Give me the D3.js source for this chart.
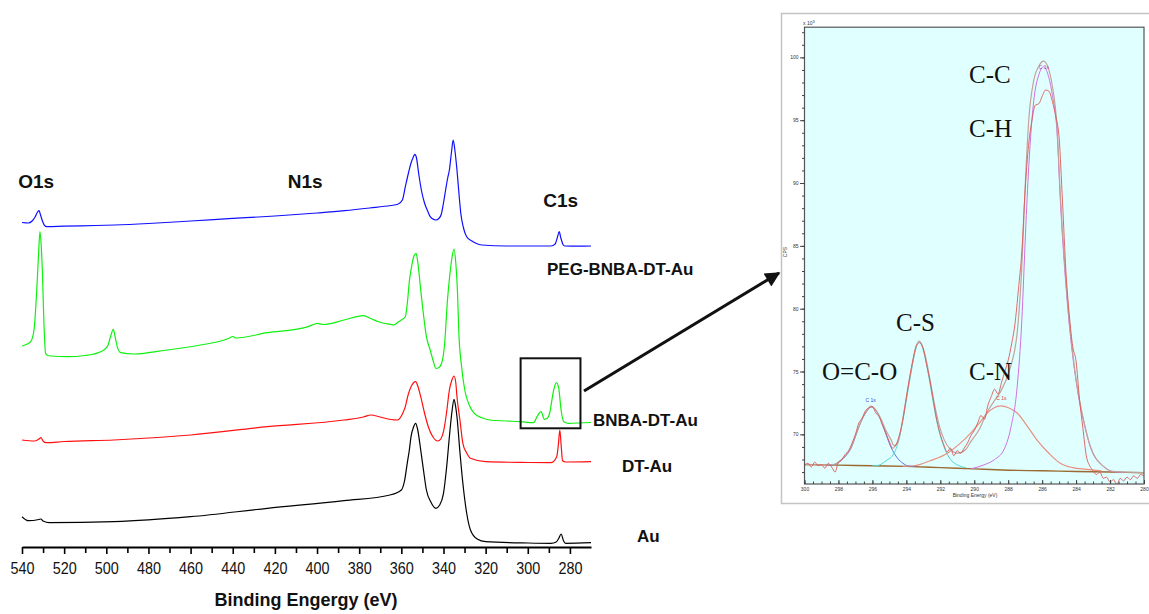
<!DOCTYPE html>
<html lang="en">
<head>
<meta charset="utf-8">
<title>XPS survey spectra with C1s inset</title>
<script src="https://cdn.jsdelivr.net/npm/d3@7/dist/d3.min.js"></script>
<style>
  body { margin: 0; background: #fff; }
  svg text { font-family: "Liberation Sans", Arial, sans-serif; }
</style>
</head>
<body>
<svg id="chart" width="1149" height="614"></svg>
<script>
// ---- survey spectra: [binding energy (eV), intensity (a.u., stacked)] ----
var pegSpectrum = [
  [540, 324.5], [537, 324], [535.2, 326], [533.8, 330], [532.6, 335], [531.9, 336.3],
  [531.2, 332], [530.3, 326], [529.3, 321.5], [528.3, 320.3], [520, 320.8], [505, 321.5],
  [496, 322], [480, 323.5], [460, 326], [442, 328.3], [420, 331], [400, 334], [387, 336.3],
  [375, 339], [365, 341.5], [361.7, 342.7], [359.5, 347], [358.1, 360.3], [356.5, 375],
  [355.4, 384], [354.3, 390], [353.6, 392.7], [352.8, 389], [351.8, 374], [350.5, 357],
  [349, 344], [347.5, 336], [346.3, 330.3], [344.5, 327.5], [343.6, 327], [342.2, 328.5],
  [341, 333], [340, 344], [339, 357], [338, 369], [337.2, 377], [336.2, 395], [335.4, 407],
  [334.6, 397], [333.6, 377], [332.6, 352], [331.8, 334], [330.5, 319], [329, 310.3],
  [326.5, 306], [324.6, 303.7], [321.8, 302], [310, 301], [289, 301], [287, 303],
  [285.9, 310], [285.1, 315.3], [284.3, 309], [283.3, 302.5], [282.5, 301], [276, 300.8], [270, 301]
];
var bnbaSpectrum = [
  [540, 201], [538, 202.5], [535.9, 205.3], [534.3, 217], [533.0, 257], [532.1, 295],
  [531.5, 315.3], [530.9, 302], [530.3, 274], [529.6, 224], [528.8, 193.7], [527.8, 191.5],
  [526.4, 191], [518.5, 190.3], [510, 191.5], [502.7, 195.3], [499.5, 200.3], [497.9, 211],
  [496.7, 217.7], [495.7, 209], [494.8, 200.3], [493.2, 194.3], [486.9, 193], [471.1, 197],
  [455.3, 202], [441.8, 208.7], [440, 210.5], [438.5, 209], [423.6, 214.3], [405.4, 219.7],
  [401, 223], [400, 223.7], [397, 222.5], [387.2, 227], [378.1, 231.3], [374, 228],
  [370.9, 225.3], [365, 222.5], [363.6, 222], [361.5, 225], [360, 227], [358.1, 230.3],
  [357, 247], [356.3, 263.7], [355, 282], [354, 291], [353, 293.7], [352.2, 285],
  [350.8, 257], [349.3, 229], [348.1, 210.3], [346.3, 197], [345, 187], [343.6, 178.7],
  [342.5, 179], [340.9, 183.7], [339.5, 202], [338.1, 247], [337, 272], [336, 289],
  [335, 298], [334.2, 285], [333.3, 252], [332.7, 213.7], [331.5, 182], [329.9, 157],
  [327.8, 142], [325.4, 133.7], [321.5, 129], [318.1, 127], [310, 126], [303.5, 125.3],
  [297.2, 124.3], [295.6, 130.3], [293.7, 135.3], [292.1, 127.7], [290.8, 128.7],
  [289.5, 135], [288.8, 143.7], [287.7, 157], [286.4, 164.3], [285.3, 158.7], [284.2, 137],
  [282.9, 125.3], [280.6, 123.7], [270, 124.5]
];
var dtSpectrum = [
  [540, 107], [534, 106], [532, 108], [531, 109.3], [530, 106], [528.5, 104.3], [520, 105.5],
  [496.4, 107], [460, 112], [423.6, 120.3], [387.2, 127], [378, 130], [374.5, 132],
  [370, 130], [365, 127.5], [361.8, 127], [359.5, 133], [358.1, 140.3], [356.8, 152],
  [355.4, 160.3], [354.3, 164], [353.2, 165.3], [352.2, 161], [350.8, 150.3], [349, 134],
  [347.2, 120.3], [345, 110], [342.7, 106], [341.3, 108], [340, 115.3], [338.5, 135],
  [337.2, 157], [336, 167], [335, 171], [334.2, 165], [333.6, 150.3], [332.2, 127],
  [330.8, 103.7], [329, 94], [327.2, 88.7], [320, 85.3], [300, 84.5], [289, 84.3],
  [286.3, 90], [285.5, 102], [284.8, 117], [284.1, 100], [283.5, 86.3], [282, 85], [270, 85.3]
];
var auSpectrum = [
  [540, 30.3], [537, 26.3], [532, 27.5], [531, 28], [530, 26], [527, 24.3], [496.4, 25.3],
  [460, 30.3], [423.6, 38.7], [387.2, 46.3], [365.4, 52], [360, 57], [358.5, 66],
  [357.2, 83.7], [356.2, 97], [355.4, 110.3], [354.2, 120], [353.2, 123.7], [352.3, 118],
  [350.8, 97], [349.5, 77], [348.1, 57], [346, 45], [343.6, 38.7], [341.8, 42], [340, 53.7],
  [338.5, 80], [337.2, 110.3], [336, 135], [335, 147.7], [334.2, 140], [333.6, 130.3],
  [332.2, 95], [330.8, 63.7], [329, 34], [327.2, 17], [324, 8], [320, 5.3], [300, 4],
  [289, 3.7], [286.5, 5], [285.2, 9], [284.2, 13], [283, 6], [282, 3.7], [270, 4.3]
];
var mainTicks = [540, 520, 500, 480, 460, 440, 420, 400, 380, 360, 340, 320, 300, 280];
var zoomWindow = [303.4, 275.0, 118.7, 188.7];   // E from, E to, intensity low, high

// ---- C1s high resolution inset: [binding energy (eV), counts x10^3] ----
var c1sBackground = [
  [300, 67.6], [298, 67.55], [296, 67.5], [294, 67.45], [292, 67.35], [290, 67.25],
  [288, 67.15], [286, 67.1], [284, 67.05], [282, 67.0], [280, 66.95]
];
var c1sOCO = [
  [298.6, 67.55], [298.24, 67.6], [297.7, 68.1], [297.26, 68.9], [296.9, 70.2], [296.67, 71.0],
  [296.35, 71.8], [296.08, 72.2], [295.8, 71.9], [295.5, 71.15], [295.2, 70.0], [294.91, 69.0],
  [294.52, 68.1], [294.2, 67.7], [293.93, 67.5], [293.5, 67.45]
];
var c1sCS = [
  [296.0, 67.5], [295.69, 67.52], [295.2, 67.9], [294.72, 68.5], [294.4, 69.8], [294.13, 71.7],
  [293.93, 73.3], [293.73, 74.86], [293.5, 76.5], [293.25, 77.37], [293.05, 76.9],
  [292.86, 75.9], [292.6, 74.0], [292.37, 72.2], [292.1, 70.4], [291.78, 69.0], [291.4, 68.0],
  [290.99, 67.57], [290.5, 67.35]
];
var c1sCN = [
  [294.2, 67.45], [293.54, 67.5], [292.6, 67.9], [291.58, 68.5], [290.9, 69.2], [290.21, 70.1],
  [289.7, 70.9], [289.23, 71.7], [288.85, 72.1], [288.45, 72.26], [287.95, 72.1], [287.47, 71.7],
  [286.9, 70.7], [286.3, 69.55], [285.6, 68.5], [284.93, 67.7], [284.2, 67.35], [283.36, 67.22],
  [282.5, 67.1]
];
var c1sCC = [
  [290.2, 67.25], [289.43, 67.57], [288.8, 68.0], [288.26, 68.76], [287.85, 70.5], [287.47, 73.8],
  [287.2, 79.0], [286.98, 86.0], [286.79, 91.3], [286.49, 96.6], [286.2, 98.6], [285.91, 99.25],
  [285.65, 98.6], [285.41, 97.1], [285.12, 93.95], [284.93, 88.65], [284.53, 80.7], [283.95, 73.8],
  [283.55, 71.0], [283.16, 69.0], [282.38, 67.43], [281.8, 67.03], [281.2, 66.98]
];
var c1sEnvelope = [
  [300, 67.6], [298.6, 67.58], [298.24, 67.62], [297.7, 68.15], [297.26, 68.95], [296.9, 70.25],
  [296.67, 71.05], [296.35, 71.85], [296.08, 72.25], [295.8, 71.95], [295.5, 71.25], [295.2, 70.3],
  [294.91, 69.6], [294.72, 69.1], [294.52, 69.3], [294.3, 70.5], [294.13, 71.9], [293.93, 73.5],
  [293.73, 75.0], [293.5, 76.6], [293.25, 77.45], [293.05, 77.0], [292.86, 76.1], [292.6, 74.3],
  [292.37, 72.6], [292.1, 70.9], [291.78, 69.6], [291.4, 68.8], [290.99, 68.5], [290.5, 68.8],
  [290.21, 69.4], [289.7, 70.4], [289.23, 71.8], [288.85, 72.6], [288.45, 73.4], [287.95, 75.0],
  [287.47, 78.1], [287.2, 83.3], [286.98, 90.3], [286.79, 95.0], [286.49, 98.2], [286.2, 99.3],
  [285.91, 99.7], [285.65, 99.2], [285.41, 97.8], [285.12, 94.4], [284.93, 89.1], [284.53, 81.0],
  [283.95, 73.9], [283.55, 71.1], [283.16, 69.05], [282.38, 67.45], [281.8, 67.05], [280, 66.95]
];
var c1sRaw = [
  [300, 67.5], [299.8, 67.7], [299.6, 67.4], [299.4, 67.8], [299.2, 67.5], [299.0, 67.6],
  [298.8, 67.3], [298.6, 67.7], [298.4, 67.4], [298.2, 67.0], [298.0, 67.8], [297.8, 68.0],
  [297.6, 68.4], [297.4, 68.7], [297.2, 69.3], [297.0, 70.0], [296.8, 70.9], [296.6, 71.3],
  [296.4, 71.9], [296.2, 72.1], [296.0, 72.2], [295.8, 71.7], [295.6, 71.4], [295.4, 70.7],
  [295.2, 70.1], [295.0, 69.4], [294.8, 68.9], [294.6, 69.2], [294.4, 70.0], [294.2, 71.2],
  [294.0, 72.9], [293.8, 74.6], [293.6, 76.0], [293.4, 77.1], [293.2, 77.3], [293.0, 76.8],
  [292.8, 75.5], [292.6, 74.2], [292.4, 72.6], [292.2, 71.1], [292.0, 70.0], [291.8, 69.2],
  [291.6, 68.6], [291.4, 68.9], [291.2, 68.3], [291.0, 68.7], [290.8, 68.5], [290.6, 68.9],
  [290.4, 69.3], [290.2, 69.9], [290.0, 70.3], [289.8, 70.9], [289.6, 71.5], [289.4, 71.2],
  [289.2, 72.3], [289.0, 73.0], [288.8, 73.6], [288.6, 73.2], [288.4, 74.1], [288.2, 75.0],
  [288.0, 75.9], [287.8, 77.2], [287.6, 78.8], [287.4, 81.5], [287.2, 84.5], [287.0, 89.5],
  [286.8, 93.0], [286.6, 95.0], [286.4, 96.2], [286.2, 96.3], [286.0, 96.9], [285.8, 97.4],
  [285.6, 97.3], [285.4, 96.5], [285.2, 95.3], [285.0, 93.6], [284.8, 88.5], [284.6, 83.0],
  [284.4, 79.5], [284.2, 77.0], [284.0, 75.8], [283.8, 72.8], [283.6, 70.5], [283.4, 68.3],
  [283.2, 67.5], [283.0, 67.1], [282.8, 66.8], [282.6, 67.0], [282.4, 66.5], [282.2, 66.6],
  [282.0, 66.2], [281.8, 66.4], [281.6, 66.0], [281.4, 66.5], [281.2, 66.3], [281.0, 66.6],
  [280.8, 66.4], [280.6, 66.7], [280.4, 66.5], [280.2, 66.8], [280.0, 66.7]
];
var insetYTicks = [70, 75, 80, 85, 90, 95, 100];
var insetXTicks = [300, 298, 296, 294, 292, 290, 288, 286, 284, 282, 280];

var svg = d3.select("#chart");

// ================= main survey plot =================
var x = d3.scaleLinear().domain([540, 270]).range([22, 591]);
var y = d3.scaleLinear().domain([0, 500]).range([547, 47]);

var line = d3.line()
    .x(function(d) { return x(d[0]); })
    .y(function(d) { return y(d[1]); })
    .curve(d3.curveMonotoneX);

var series = [
    { data: pegSpectrum, color: "#1010ff" },
    { data: bnbaSpectrum, color: "#10f010" },
    { data: dtSpectrum, color: "#ff1010" },
    { data: auSpectrum, color: "#000000" }
];
svg.append("g").selectAll("path")
    .data(series)
    .enter()
    .append("path")
    .attr("d", function(d) { return line(d.data); })
    .attr("fill", "none")
    .attr("stroke", function(d) { return d.color; })
    .attr("stroke-width", 1.2);

// minor ticks every 10 eV
svg.append("g")
    .attr("transform", "translate(0,547)")
    .call(d3.axisBottom(x).tickValues(d3.range(530, 270, -20)).tickSize(6).tickSizeOuter(0).tickFormat(""))
    .call(function(g) { g.select(".domain").remove(); })
    .selectAll("line").attr("stroke", "#000").attr("stroke-width", 1.6);

var xAxis = svg.append("g")
    .attr("transform", "translate(0,547)")
    .call(d3.axisBottom(x).tickValues(mainTicks).tickSize(7).tickSizeOuter(0).tickPadding(8));
xAxis.select(".domain").attr("stroke", "#000").attr("stroke-width", 2);
xAxis.selectAll("line").attr("stroke", "#000").attr("stroke-width", 1.6);
xAxis.selectAll("text")
    .attr("fill", "#111")
    .style("font-size", "17px")
    .style("font-family", "'Liberation Sans', Arial, sans-serif")
    .attr("textLength", 24)
    .attr("lengthAdjust", "spacingAndGlyphs");

svg.append("text")
    .attr("x", 306)
    .attr("y", 606)
    .attr("text-anchor", "middle")
    .style("font-size", "18px")
    .style("font-weight", "bold")
    .attr("fill", "#111")
    .text("Binding Engergy (eV)");

// core level labels
var peakNames = ["O1s", "N1s", "C1s"];
var peakEnergy = [533.3, 405.6, 284.4];
var peakLabelY = [188, 188, 207];
peakNames.forEach(function(name, i) {
    svg.append("text")
        .attr("x", x(peakEnergy[i]))
        .attr("y", peakLabelY[i])
        .attr("text-anchor", "middle")
        .style("font-size", "19px")
        .style("font-weight", "bold")
        .attr("fill", "#111")
        .text(name);
});

// sample labels
var sampleNames = ["PEG-BNBA-DT-Au", "BNBA-DT-Au", "DT-Au", "Au"];
var sampleX = [547, 593, 622, 637];
var sampleY = [275, 426, 472, 542];
sampleNames.forEach(function(name, i) {
    svg.append("text")
        .attr("x", sampleX[i])
        .attr("y", sampleY[i])
        .style("font-size", "17px")
        .style("font-weight", "bold")
        .attr("fill", "#111")
        .text(name);
});

// box around the C1s region and the arrow to the inset
svg.append("rect")
    .attr("x", x(zoomWindow[0]))
    .attr("y", y(zoomWindow[3]))
    .attr("width", x(zoomWindow[1]) - x(zoomWindow[0]))
    .attr("height", y(zoomWindow[2]) - y(zoomWindow[3]))
    .attr("fill", "none")
    .attr("stroke", "#111")
    .attr("stroke-width", 2);

svg.append("defs").append("marker")
    .attr("id", "head")
    .attr("viewBox", "0 0 10 10")
    .attr("refX", 9).attr("refY", 5)
    .attr("markerWidth", 6).attr("markerHeight", 5)
    .attr("orient", "auto")
    .append("path").attr("d", "M0,0L10,5L0,10z").attr("fill", "#111");

svg.append("line")
    .attr("x1", 584).attr("y1", 391)
    .attr("x2", 779).attr("y2", 273)
    .attr("stroke", "#111")
    .attr("stroke-width", 3)
    .attr("marker-end", "url(#head)");

// ================= C1s inset =================
var inset = svg.append("g");
inset.append("rect")
    .attr("x", 781.5).attr("y", 13.5)
    .attr("width", 370).attr("height", 490)
    .attr("fill", "#fff")
    .attr("stroke", "#c4c4c4")
    .attr("stroke-width", 1.5);

var xi = d3.scaleLinear().domain([300, 280]).range([804.5, 1144]);
var yi = d3.scaleLinear().domain([66.05, 102.4]).range([484, 27.2]);

inset.append("clipPath").attr("id", "insetClip")
    .append("rect")
    .attr("x", 804.5).attr("y", 27.2)
    .attr("width", 1144 - 804.5).attr("height", 484 - 27.2);

inset.append("rect")
    .attr("x", 804.5).attr("y", 27.2)
    .attr("width", 1144 - 804.5).attr("height", 484 - 27.2)
    .attr("fill", "#e0ffff");

var iline = d3.line()
    .x(function(d) { return xi(d[0]); })
    .y(function(d) { return yi(d[1]); })
    .curve(d3.curveMonotoneX);

var insetSeries = [
    { data: c1sBackground, color: "#9a6a30", w: 1.4 },
    { data: c1sOCO, color: "#6a70e0", w: 1 },
    { data: c1sCS, color: "#50d8d8", w: 1 },
    { data: c1sCN, color: "#e89080", w: 1.2 },
    { data: c1sCC, color: "#d070e0", w: 1 },
    { data: c1sEnvelope, color: "#c0a49c", w: 1.2 },
    { data: c1sRaw, color: "#e05858", w: 0.9 }
];
inset.append("g")
    .attr("clip-path", "url(#insetClip)")
    .selectAll("path")
    .data(insetSeries)
    .enter()
    .append("path")
    .attr("d", function(d) { return iline(d.data); })
    .attr("fill", "none")
    .attr("stroke", function(d) { return d.color; })
    .attr("stroke-width", function(d) { return d.w; });

inset.append("rect")
    .attr("x", 804.5).attr("y", 27.2)
    .attr("width", 1144 - 804.5).attr("height", 484 - 27.2)
    .attr("fill", "none")
    .attr("stroke", "#555")
    .attr("stroke-width", 1.2);

// tiny component tags
var tagEnergy = [296.1, 288.4, 285.9];
var tagValue = [72.6, 72.7, 99.1];
var tagColor = ["#4848d8", "#d84040", "#c030c8"];
tagEnergy.forEach(function(e, i) {
    inset.append("text")
        .attr("x", xi(e)).attr("y", yi(tagValue[i]))
        .attr("text-anchor", "middle")
        .style("font-size", "5px")
        .attr("fill", tagColor[i])
        .text("C 1s");
});

// inset axes
var yiAxisMinor = inset.append("g")
    .attr("transform", "translate(804.5,0)")
    .call(d3.axisLeft(yi).tickValues(d3.range(67, 103, 1)).tickSize(2.5).tickFormat(""));
yiAxisMinor.select(".domain").remove();
var yiAxis = inset.append("g")
    .attr("transform", "translate(804.5,0)")
    .call(d3.axisLeft(yi).tickValues(insetYTicks).tickSize(4.5).tickPadding(1.5));
yiAxis.select(".domain").remove();
inset.selectAll("line").attr("stroke", "#444");
yiAxis.selectAll("text").style("font-size", "5px").attr("fill", "#333");

var xiAxisMinor = inset.append("g")
    .attr("transform", "translate(0,484)")
    .call(d3.axisBottom(xi).tickValues(d3.range(300, 279.9, -0.5)).tickSize(-2.5).tickFormat(""));
xiAxisMinor.select(".domain").remove();
var xiAxis = inset.append("g")
    .attr("transform", "translate(0,484)")
    .call(d3.axisBottom(xi).tickValues(insetXTicks).tickSize(-4).tickPadding(3));
xiAxis.select(".domain").remove();
xiAxis.selectAll("text").style("font-size", "5px").attr("fill", "#333");
inset.selectAll("line").attr("stroke", "#444");

inset.append("text")
    .attr("x", 975).attr("y", 497)
    .attr("text-anchor", "middle")
    .style("font-size", "5px")
    .attr("fill", "#333")
    .text("Binding Energy (eV)");
inset.append("text")
    .attr("transform", "translate(787,252) rotate(-90)")
    .attr("text-anchor", "middle")
    .style("font-size", "5px")
    .attr("fill", "#333")
    .text("CPS");
inset.append("text")
    .attr("x", 803).attr("y", 25)
    .style("font-size", "5px")
    .attr("fill", "#333")
    .text("x 10")
    .append("tspan").attr("dy", -2).style("font-size", "4px").text("3");

// bond assignments (serif, as in the fitting software export)
var bondNames = ["C-C", "C-H", "C-S", "O=C-O", "C-N"];
var bondX = [969, 969, 896, 822, 969];
var bondY = [83, 137, 331, 380, 380];
bondNames.forEach(function(name, i) {
    inset.append("text")
        .attr("x", bondX[i]).attr("y", bondY[i])
        .style("font-family", "'Liberation Serif', 'Times New Roman', serif")
        .style("font-size", "25px")
        .attr("fill", "#111")
        .text(name);
});
</script>
</body>
</html>
